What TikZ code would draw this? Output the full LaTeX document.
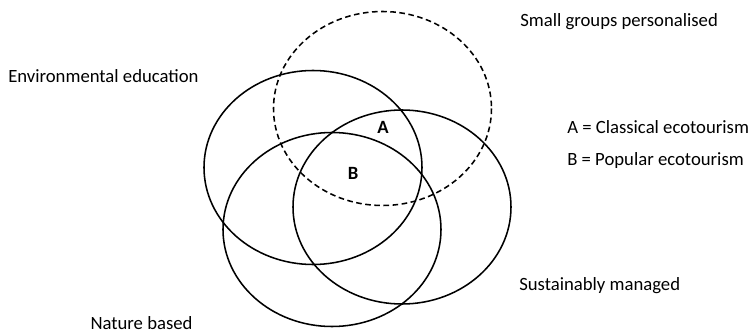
\documentclass[tikz,border=0pt]{standalone}
\usepackage{fontspec}
\setmainfont{Carlito}
\usetikzlibrary{positioning}

\begin{document}
\begin{tikzpicture}[x=0.025cm,y=-0.025cm,
    ring/.style={line width=1.1pt},
    lbl/.style={font=\fontsize{13.3}{15}\selectfont, inner sep=0pt}]
  % Canvas in pixel units (y pointing down)
  \useasboundingbox (0,0) rectangle (751,334);

  % Centres of the four sets (all with the same radii)
  \coordinate (E) at (313,167.5);
  \coordinate (N) at (332,229.5);
  \coordinate (S) at (402,207);
  \coordinate (G) at (382.5,108.5);
  \def\Rx{109}
  \def\Ry{97}

  % Draw the sets
  \draw[ring] (E) ellipse [x radius=\Rx, y radius=\Ry];
  \draw[ring] (N) ellipse [x radius=\Rx, y radius=\Ry];
  \draw[ring] (S) ellipse [x radius=\Rx, y radius=\Ry];
  \draw[ring,dashed,dash pattern=on 4pt off 2.5pt] (G) ellipse [x radius=\Rx, y radius=\Ry];

  % Regions
  \node[lbl,font=\fontsize{13.3}{15}\selectfont\bfseries] (regA) at (383,127) {A};
  \node[lbl,font=\fontsize{13.3}{15}\selectfont\bfseries] (regB) at (353,173) {B};

  % Set names
  \node[lbl,anchor=west] (envEd) at (8,76) {Environmental education};
  \node[lbl] (natBased) at (141.5,323) {Nature based};
  \node[lbl,anchor=west] (smallGrp) at (520,22) {Small groups personalised};
  \node[lbl,anchor=west] (sustMan) at (519,286) {Sustainably managed};

  % Legend
  \node[lbl,anchor=west] (legA) at (567,127) {A = Classical ecotourism};
  \node[lbl,below=24pt of legA.west,anchor=west] (legB) {B = Popular ecotourism};
\end{tikzpicture}
\end{document}
